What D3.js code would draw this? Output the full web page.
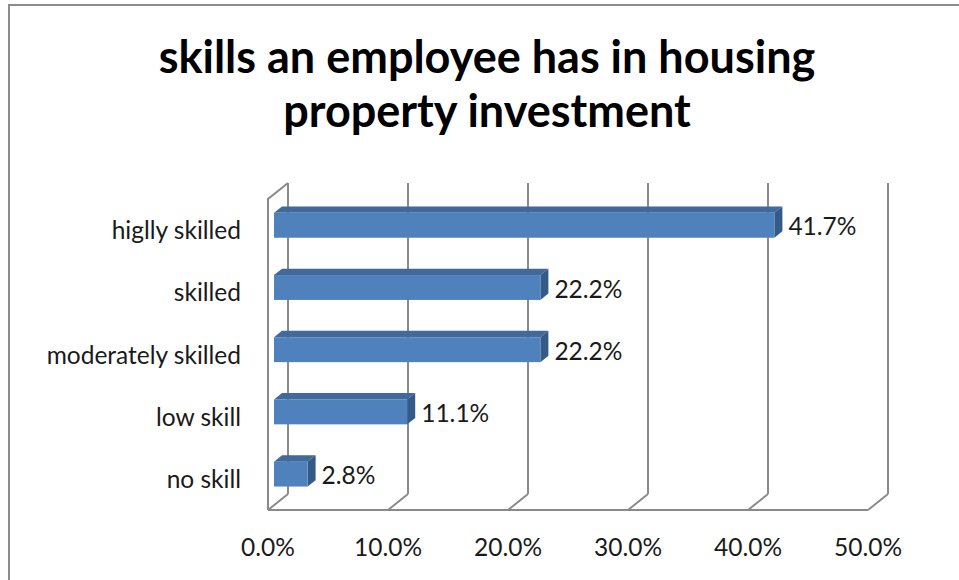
<!DOCTYPE html>
<html>
<head>
<meta charset="utf-8">
<script src="https://cdn.jsdelivr.net/npm/d3@7"></script>
<style>
  html, body { margin: 0; padding: 0; background: #fff; }
  svg { display: block; }
</style>
</head>
<body>
<svg id="chart" width="959" height="580"></svg>
<script>
// Survey responses: level of skill in housing property investment
const categories = ["higlly skilled", "skilled", "moderately skilled", "low skill", "no skill"];
const values = [41.7, 22.2, 22.2, 11.1, 2.8];
const tickValues = [0, 10, 20, 30, 40, 50];
const titleLines = ["skills an employee has in housing", "property investment"];

const W = 959, H = 580;
const svg = d3.select("#chart");
const font = "Lato, 'Open Sans', sans-serif";
const labelSize = 24.5;
const textColor = "#1a1a1a";

// Front plane of the 3D box and depth offset toward the back wall
const x = d3.scaleLinear().domain([0, 50]).range([268, 868]);
const y = d3.scaleBand().domain(categories).range([199, 510])
  .paddingInner(0.6).paddingOuter(0.3);
const depth = { dx: 20, dy: -16 };
const barFront = 0.3, barBack = 0.7;   // bar occupies the middle of the depth

const yTop = 199, yBottom = 510;
const gridColor = "#8a8a8a";

// Outer frame
svg.append("rect")
  .attr("x", 9).attr("y", 5).attr("width", W + 20).attr("height", H + 20)
  .attr("fill", "#fff").attr("stroke", "#8c8c8c").attr("stroke-width", 2);

// Title
svg.append("g").selectAll("text").data(titleLines).join("text")
  .attr("x", 487).attr("y", (d, i) => 73 + i * 54)
  .attr("text-anchor", "middle")
  .attr("font-family", font).attr("font-weight", "bold")
  .attr("font-size", 45).attr("fill", "#000")
  .text(d => d);

const grid = svg.append("g").attr("fill", "none")
  .attr("stroke", gridColor).attr("stroke-width", 2);

// Back wall gridlines
grid.selectAll("line.back").data(tickValues).join("line")
  .attr("class", "back")
  .attr("x1", d => x(d) + depth.dx).attr("x2", d => x(d) + depth.dx)
  .attr("y1", yTop + depth.dy).attr("y2", yBottom + depth.dy);

// Floor: front edge plus the receding tick lines
grid.append("line")
  .attr("x1", x(0)).attr("x2", x(50)).attr("y1", yBottom).attr("y2", yBottom);
grid.selectAll("line.floor").data(tickValues).join("line")
  .attr("class", "floor")
  .attr("x1", d => x(d)).attr("x2", d => x(d) + depth.dx)
  .attr("y1", yBottom).attr("y2", yBottom + depth.dy);

// Left wall outline
grid.append("path")
  .attr("d", `M${x(0)},${yBottom} L${x(0)},${yTop} L${x(0) + depth.dx},${yTop + depth.dy}`);

// Bars as 3D boxes
const bars = svg.append("g");
categories.forEach((c, i) => {
  const v = values[i];
  const fx = depth.dx * barFront, fy = depth.dy * barFront;
  const bx = depth.dx * barBack, by = depth.dy * barBack;
  const x0 = x(0) + fx, x1 = x(v) + fx;
  const y0 = y(c) + fy, y1 = y(c) + y.bandwidth() + fy;
  const ddx = bx - fx, ddy = by - fy;
  const g = bars.append("g");
  // top face
  g.append("path")
    .attr("d", `M${x0},${y0} L${x1},${y0} L${x1 + ddx},${y0 + ddy} L${x0 + ddx},${y0 + ddy} Z`)
    .attr("fill", "#41699b");
  // side face
  g.append("path")
    .attr("d", `M${x1},${y0} L${x1 + ddx},${y0 + ddy} L${x1 + ddx},${y1 + ddy} L${x1},${y1} Z`)
    .attr("fill", "#345a88");
  // front face
  g.append("rect")
    .attr("x", x0).attr("y", y0).attr("width", x1 - x0).attr("height", y1 - y0)
    .attr("fill", "#4f81bd");
  // value label
  g.append("text")
    .attr("x", x(v) + depth.dx * barBack + 6)
    .attr("y", y(c) + y.bandwidth() / 2 + fy + 10)
    .attr("font-family", font).attr("font-size", labelSize).attr("fill", textColor)
    .text(v.toFixed(1) + "%");
});

// Category labels
svg.append("g").selectAll("text").data(categories).join("text")
  .attr("x", 241)
  .attr("y", d => y(d) + y.bandwidth() / 2 + 9)
  .attr("text-anchor", "end")
  .attr("font-family", font).attr("font-size", labelSize).attr("fill", textColor)
  .text(d => d);

// Value axis labels
svg.append("g").selectAll("text").data(tickValues).join("text")
  .attr("x", d => x(d))
  .attr("y", 556)
  .attr("text-anchor", "middle")
  .attr("font-family", font).attr("font-size", labelSize).attr("fill", textColor)
  .text(d => d.toFixed(1) + "%");
</script>
</body>
</html>
